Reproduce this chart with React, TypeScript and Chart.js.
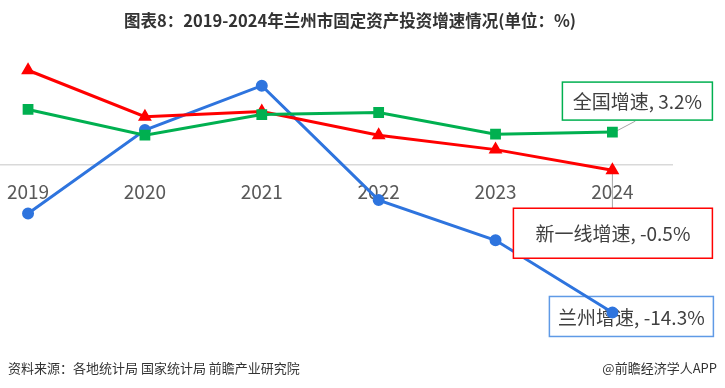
import React, { useEffect, useRef } from "react";
import { Chart, registerables } from "chart.js";

Chart.register(...registerables);

const years = [2019, 2020, 2021, 2022, 2023, 2024];
const seriesNames = ["兰州增速", "新一线增速", "全国增速"];
const lanzhou = [-4.7, 3.4, 7.7, -3.4, -7.3, -14.3];
const newTier1 = [9.2, 4.7, 5.2, 2.9, 1.5, -0.5];
const national = [5.4, 2.9, 4.9, 5.1, 3.0, 3.2];
const seriesColors = ["#2e74de", "#ff0000", "#00b050"];
const boxBorderColors = ["#5f9ae6", "#ff0000", "#00b050"];

const FONT = '"Noto Sans CJK SC", "Noto Sans", sans-serif';

function lastPoint(chart: any, i: number) {
  const meta = chart.getDatasetMeta(i);
  const p = meta.data[meta.data.length - 1];
  return { x: p.x, y: p.y };
}

function labelText(i: number) {
  const arr = [lanzhou, newTier1, national][i];
  return `${seriesNames[i]}, ${arr[arr.length - 1].toFixed(1)}%`;
}

function drawBox(ctx: any, i: number, left: number, top: number, w: number, h: number, fill: boolean) {
  ctx.save();
  if (fill) {
    ctx.fillStyle = "#ffffff";
    ctx.fillRect(left, top, w, h);
  }
  ctx.strokeStyle = boxBorderColors[i];
  ctx.lineWidth = 1.5;
  ctx.strokeRect(left, top, w, h);
  ctx.fillStyle = "#404040";
  ctx.font = `19px ${FONT}`;
  ctx.textAlign = "center";
  ctx.textBaseline = "middle";
  ctx.fillText(labelText(i), left + w / 2, top + h / 2 + 1);
  ctx.restore();
}

const endLabels = {
  id: "endLabels",
  beforeDatasetsDraw(chart: any) {
    const ctx = chart.ctx;
    const g = lastPoint(chart, 2);
    ctx.save();
    ctx.strokeStyle = "#a6a6a6";
    ctx.lineWidth = 1;
    ctx.beginPath();
    ctx.moveTo(g.x + 23, g.y - 11);
    ctx.lineTo(g.x + 4, g.y - 1);
    ctx.stroke();
    ctx.restore();
    drawBox(ctx, 2, g.x - 50, g.y - 50, 150, 38, true);
    const b = lastPoint(chart, 0);
    drawBox(ctx, 0, b.x - 63, b.y - 16, 164, 40, false);
    const r = lastPoint(chart, 1);
    ctx.save();
    ctx.strokeStyle = "#a6a6a6";
    ctx.lineWidth = 1;
    ctx.beginPath();
    ctx.moveTo(r.x, r.y + 2);
    ctx.lineTo(r.x, r.y + 38);
    ctx.stroke();
    ctx.restore();
  },
  afterDatasetsDraw(chart: any) {
    const ctx = chart.ctx;
    const r = lastPoint(chart, 1);
    drawBox(ctx, 1, r.x - 99, r.y + 38, 199, 50, true);
  },
};

export default function App() {
  const ref = useRef<HTMLCanvasElement>(null);
  useEffect(() => {
    if (!ref.current) return;
    const mk = (arr: number[]) => arr.map((v, i) => ({ x: years[i], y: v }));
    const chart = new Chart(ref.current, {
      type: "line",
      data: {
        datasets: [
          {
            label: seriesNames[0],
            data: mk(lanzhou),
            borderColor: seriesColors[0],
            backgroundColor: seriesColors[0],
            borderWidth: 3,
            pointStyle: "circle",
            pointRadius: 4.5,
            order: 2,
          },
          {
            label: seriesNames[1],
            data: mk(newTier1),
            borderColor: seriesColors[1],
            backgroundColor: seriesColors[1],
            borderWidth: 3,
            pointStyle: "triangle",
            pointRadius: 5,
            order: 1,
          },
          {
            label: seriesNames[2],
            data: mk(national),
            borderColor: seriesColors[2],
            backgroundColor: seriesColors[2],
            borderWidth: 3,
            pointStyle: "rect",
            pointRadius: 5.5,
            order: 0,
          },
        ],
      },
      options: {
        responsive: false,
        animation: false,
        layout: { autoPadding: false, padding: { left: 0, right: 53, top: 62, bottom: 58 } } as any,
        plugins: { legend: { display: false }, tooltip: { enabled: false }, title: { display: false } },
        scales: {
          x: {
            type: "linear",
            position: { y: 0 } as any,
            min: 2018.76,
            max: 2024.51,
            afterBuildTicks: (axis: any) => {
              axis.ticks = years.map((v) => ({ value: v }));
            },
            afterFit: (axis: any) => {
              axis.paddingLeft = 0;
              axis.paddingRight = 0;
            },
            grid: { display: false, drawTicks: false },
            border: { display: true, color: "#d9d9d9", width: 1.5 },
            ticks: {
              color: "#595959",
              font: { family: FONT, size: 19 },
              padding: 15,
              autoSkip: false,
              maxRotation: 0,
              callback: (v: any) => String(v),
            },
          },
          y: {
            display: false,
            min: -16,
            max: 10,
          },
        },
      },
      plugins: [endLabels],
    });
    return () => chart.destroy();
  }, []);

  return (
    <div style={{ position: "absolute", left: 0, top: 0, width: 725, height: 388, background: "#fff", overflow: "hidden" }}>
      <canvas ref={ref} width={725} height={388} style={{ position: "absolute", left: 0, top: 0, width: 725, height: 388 }} />
      <div
        style={{
          position: "absolute",
          left: 0,
          top: 8,
          width: 700,
          textAlign: "center",
          fontFamily: FONT,
          fontWeight: "bold",
          fontSize: 16.5,
          lineHeight: "24px",
          color: "#333",
        }}
      >
        图表8：2019-2024年兰州市固定资产投资增速情况(单位：%)
      </div>
      <div
        style={{
          position: "absolute",
          left: 8,
          top: 359,
          fontFamily: FONT,
          fontSize: 13,
          lineHeight: "18px",
          color: "#333",
          whiteSpace: "nowrap",
        }}
      >
        资料来源：各地统计局 国家统计局 前瞻产业研究院
      </div>
      <div
        style={{
          position: "absolute",
          right: 8,
          top: 359,
          fontFamily: FONT,
          fontSize: 13,
          lineHeight: "18px",
          color: "#333",
          whiteSpace: "nowrap",
        }}
      >
        @前瞻经济学人APP
      </div>
    </div>
  );
}
